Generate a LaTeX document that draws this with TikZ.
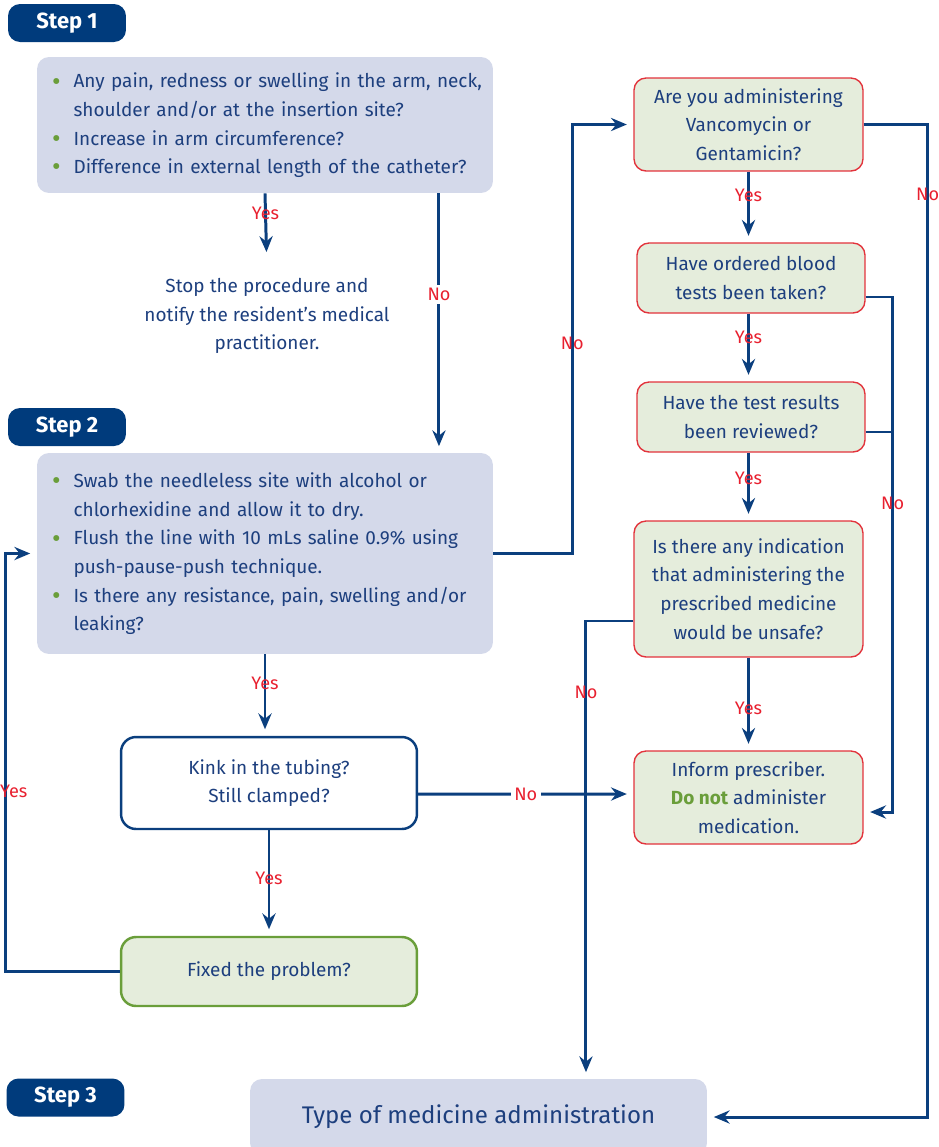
\documentclass[tikz,border=0pt]{standalone}
\usepackage{fontspec}
\setmainfont{Fira Sans}
\usetikzlibrary{arrows.meta}
\definecolor{navy}{HTML}{003B7C}
\definecolor{txtblue}{HTML}{1D3F7E}
\definecolor{lineblue}{HTML}{0B3F7E}
\definecolor{lavender}{HTML}{D4D9EA}
\definecolor{palegreen}{HTML}{E5EDDC}
\definecolor{boxred}{HTML}{E2333C}
\definecolor{lblred}{HTML}{E8202F}
\definecolor{leafgreen}{HTML}{6A9E3A}
\begin{document}
\begin{tikzpicture}[x=0.02cm,y=-0.02cm,
  every node/.style={text=txtblue, font=\fontsize{10.8}{16.3}\selectfont},
  navybox/.style={fill=navy, rounded corners=0.24cm, minimum width=2.36cm, minimum height=0.76cm,
    text=white, font=\fontsize{12.5}{14}\selectfont\bfseries},
  bigbox/.style={fill=lavender, rounded corners=0.24cm, minimum width=9.12cm,
    inner xsep=0.3cm, text width=8.52cm, align=left},
  askbox/.style={fill=palegreen, draw=boxred, line width=0.8pt, rounded corners=0.24cm,
    minimum width=4.58cm, align=center},
  arr/.style={draw=lineblue, line width=1.7pt, -{Stealth[length=9pt,width=7.5pt,inset=3pt]}, shorten >=0.13cm},
  link/.style={draw=lineblue, line width=1.7pt},
  lbl/.style={text=lblred, font=\fontsize{10.3}{11}\selectfont, inner sep=1pt},
  lblw/.style={lbl, fill=white, inner sep=2pt}]
\newcommand{\bul}{\textcolor{leafgreen}{\raisebox{-0.12em}{\fontsize{15}{15}\selectfont\textbullet}}}
\useasboundingbox (0,0) rectangle (939,1147);

% Step 1
\node[navybox] (st1) at (67,23) {Step 1};
\node[bigbox, minimum height=2.72cm] (s1) at (265,125) {%
  \begin{tabular}{@{}l@{\hspace{0.26cm}}l@{}}
  \bul & Any pain, redness or swelling in the arm, neck,\\
       & shoulder and/or at the insertion site?\\
  \bul & Increase in arm circumference?\\
  \bul & Difference in external length of the catheter?
  \end{tabular}};
\node[align=center] (stop) at (267,316) {Stop the procedure and\\ notify the resident’s medical\\ practitioner.};

% Step 2
\node[navybox] (st2) at (67,427) {Step 2};
\node[bigbox, minimum height=4.02cm] (s2) at (265,553.5) {%
  \begin{tabular}{@{}l@{\hspace{0.26cm}}l@{}}
  \bul & Swab the needleless site with alcohol or\\
       & chlorhexidine and allow it to dry.\\
  \bul & Flush the line with 10 mLs saline 0.9\% using\\
       & push-pause-push technique.\\
  \bul & Is there any resistance, pain, swelling and/or\\
       & leaking?
  \end{tabular}};
\node[draw=lineblue, line width=1.4pt, rounded corners=0.3cm, minimum width=5.92cm, minimum height=1.84cm,
  align=center] (kink) at (269,783) {Kink in the tubing?\\ Still clamped?};
\node[fill=palegreen, draw=leafgreen, line width=1.4pt, rounded corners=0.3cm, minimum width=5.92cm,
  minimum height=1.38cm] (fixed) at (269,971.5) {Fixed the problem?};

% right column
\node[askbox, minimum height=1.86cm] (vanc) at (748.5,124.5) {Are you administering\\ Vancomycin or\\ Gentamicin?};
\node[askbox, minimum width=4.56cm, minimum height=1.4cm] (blood) at (751,278) {Have ordered blood\\ tests been taken?};
\node[askbox, minimum width=4.56cm, minimum height=1.4cm] (review) at (751,417) {Have the test results\\ been reviewed?};
\node[askbox, minimum height=2.72cm] (ind) at (748.5,589) {Is there any indication\\ that administering the\\ prescribed medicine\\ would be unsafe?};
\node[askbox, minimum height=1.86cm] (inform) at (748.5,797.5) {Inform prescriber.\\
  \textcolor{leafgreen}{\bfseries Do not} administer\\ medication.};

% Step 3
\node[navybox] (st3) at (65.5,1097.5) {Step 3};
\node[fill=lavender, rounded corners=0.24cm, minimum width=9.14cm, minimum height=1.52cm,
  font=\fontsize{13.7}{15}\selectfont] (type) at (478.5,1117) {Type of medicine administration};

% connectors
\draw[arr, shorten >=0.4cm] (s1.south) -- node[lbl, pos=0.25]{Yes} (stop.north);
\draw[arr] ([xshift=3.48cm]s1.south) -- node[lblw, pos=0.39]{No} ([xshift=3.48cm]s2.north);
\draw[arr] (s2.east) -- ++(79,0) |- node[lbl, pos=0.245]{No} (vanc.west);
\draw[arr] (s2.south) -- node[lbl, pos=0.36]{Yes} (s2.south |- kink.north);
\draw[arr] ([yshift=-0.22cm]kink.east) -- node[lblw]{No} ([yshift=0.07cm]inform.west);
\draw[arr] (kink.south) -- node[lbl, pos=0.46]{Yes} (fixed.north);
\draw[arr] (fixed.west) -- ++(-114,0) |- node[lbl, pos=0.215, xshift=0.16cm]{Yes} (s2.west);

\draw[arr] (vanc.south) -- node[lbl, pos=0.33]{Yes} (vanc.south |- blood.north);
\draw[arr] (vanc.south |- blood.south) -- node[lbl, pos=0.35]{Yes} (vanc.south |- review.north);
\draw[arr] (vanc.south |- review.south) -- node[lbl, pos=0.38]{Yes} (vanc.south |- ind.north);
\draw[arr] (ind.south) -- node[lbl, pos=0.55]{Yes} (inform.north);

\draw[arr] (vanc.east) -- ++(64,0) |- node[lbl, pos=0.035]{No} (type.east);
\draw[arr] ([yshift=-0.38cm]blood.east) -- ++(27,0) |- node[lbl, pos=0.2]{No} ([yshift=-0.29cm]inform.east);
\draw[link] ([yshift=-0.3cm]review.east) -- ++(27,0);
\draw[arr] ([yshift=-0.64cm]ind.west) -| node[lbl, pos=0.578]{No} ([xshift=2.15cm]type.north);
\end{tikzpicture}
\end{document}
